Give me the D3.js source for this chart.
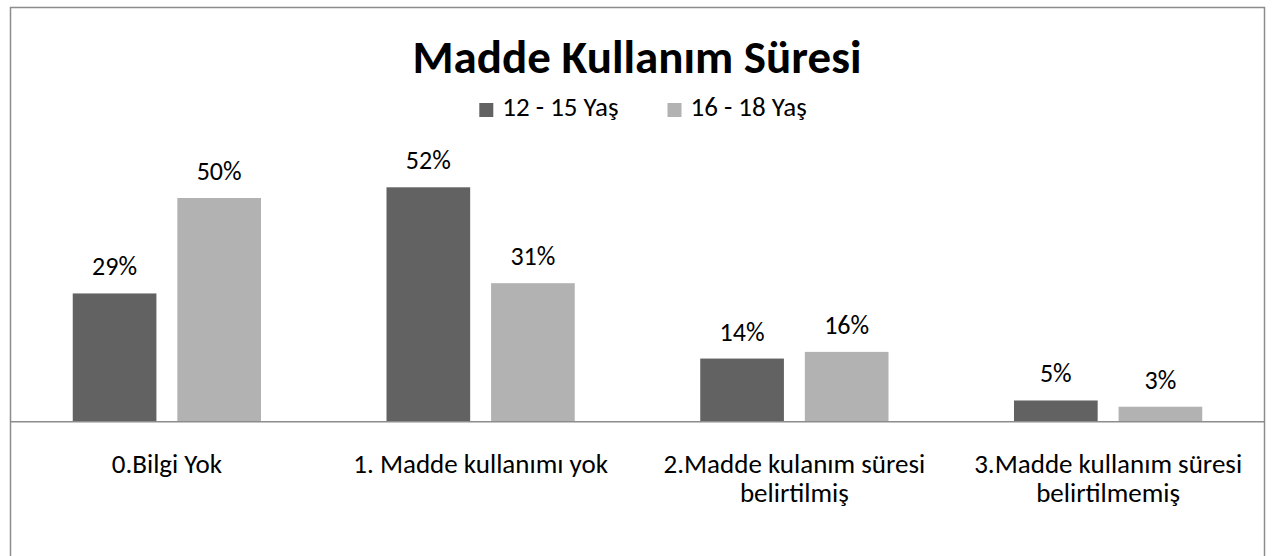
<!DOCTYPE html>
<html>
<head>
<meta charset="utf-8">
<script src="https://cdn.jsdelivr.net/npm/d3@7"></script>
<style>
  html, body { margin: 0; padding: 0; background: #fff; }
  svg { display: block; font-family: Carlito, Lato, "Open Sans", sans-serif; }
</style>
</head>
<body>
<div id="chart"></div>
<script>
// Madde Kullanım Süresi - grouped bar chart

const categories = [
    '0.Bilgi Yok',
    '1. Madde kullanımı yok',
    '2.Madde kulanım süresi belirtilmiş',
    '3.Madde kullanım süresi belirtilmemiş'
];
const seriesNames = ['12 - 15 Yaş', '16 - 18 Yaş'];
const values1215 = [28.6, 52.4, 14.0, 4.6];
const values1618 = [50.0, 30.9, 15.5, 3.2];
const seriesColors = ['#626262', '#b2b2b2'];

const W = 1283, H = 556;
const frame = { left: 10, right: 1264, top: 7 };
const baseline = 421;
const fontFamily = 'Carlito, Lato, "Open Sans", sans-serif';

const svg = d3.select('#chart').append('svg')
    .attr('width', W)
    .attr('height', H);

// outer frame (bottom edge is cut off in the original)
svg.append('rect')
    .attr('x', frame.left + 0.5)
    .attr('y', frame.top + 0.5)
    .attr('width', frame.right - frame.left)
    .attr('height', H + 20)
    .attr('fill', '#fff')
    .attr('stroke', '#8c8c8c')
    .attr('stroke-width', 1.5);

// title
svg.append('text')
    .attr('x', (frame.left + frame.right) / 2)
    .attr('y', 73)
    .attr('text-anchor', 'middle')
    .attr('font-size', 47)
    .attr('font-weight', 'bold')
    .attr('fill', '#000')
    .text('Madde Kullanım Süresi');

// legend
const legend = svg.append('g');
let lx = 0;
seriesNames.forEach((name, i) => {
    const g = legend.append('g').attr('transform', `translate(${lx},0)`);
    g.append('rect')
        .attr('x', 0).attr('y', 103)
        .attr('width', 14).attr('height', 14)
        .attr('fill', seriesColors[i]);
    const t = g.append('text')
        .attr('x', 23).attr('y', 116)
        .attr('font-size', 27)
        .attr('fill', '#000')
        .text(name);
    lx += 23 + t.node().getComputedTextLength() + 49;
});
const legendW = lx - 49;
legend.attr('transform', `translate(${643 - legendW / 2},0)`);

// scales
const x0 = d3.scaleBand()
    .domain(categories)
    .range([frame.left, frame.right + 1])
    .paddingInner(0)
    .paddingOuter(0);

const x1 = d3.scaleBand()
    .domain(seriesNames)
    .range([0, x0.bandwidth()])
    .paddingInner(0.2)
    .paddingOuter(0.6);

const y = d3.scaleLinear()
    .domain([0, 60])
    .range([baseline, baseline - 60 * 4.46]);

const rows = categories.map((c, i) => ({
    category: c,
    values: [
        { series: seriesNames[0], value: values1215[i], color: seriesColors[0] },
        { series: seriesNames[1], value: values1618[i], color: seriesColors[1] }
    ]
}));

const groups = svg.selectAll('.group')
    .data(rows)
    .enter()
    .append('g')
    .attr('class', 'group')
    .attr('transform', d => `translate(${x0(d.category)},0)`);

groups.selectAll('rect')
    .data(d => d.values)
    .enter()
    .append('rect')
    .attr('x', d => x1(d.series))
    .attr('y', d => y(d.value))
    .attr('width', x1.bandwidth())
    .attr('height', d => y(0) - y(d.value))
    .attr('fill', d => d.color);

groups.selectAll('.lbl')
    .data(d => d.values)
    .enter()
    .append('text')
    .attr('class', 'lbl')
    .attr('x', d => x1(d.series) + x1.bandwidth() / 2)
    .attr('y', d => y(d.value) - 18)
    .attr('text-anchor', 'middle')
    .attr('font-size', 26)
    .attr('fill', '#000')
    .text(d => Math.round(d.value) + '%');

// category axis, line spans the whole frame
const xAxis = svg.append('g')
    .attr('transform', `translate(0,${baseline})`)
    .call(d3.axisBottom(x0).tickSize(0).tickPadding(0));
xAxis.select('.domain').remove();
xAxis.attr('font-family', fontFamily).attr('font-size', 27);
svg.append('line')
    .attr('x1', frame.left).attr('x2', frame.right + 1)
    .attr('y1', baseline + 0.75).attr('y2', baseline + 0.75)
    .attr('stroke', '#8c8c8c')
    .attr('stroke-width', 1.5);

xAxis.selectAll('.tick text')
    .attr('fill', '#000')
    .attr('y', 52)
    .attr('dy', 0)
    .each(function (d) { wrap(d3.select(this), x0.bandwidth() - 14); });

function wrap(text, width) {
    const words = text.text().split(/\s+/);
    text.text(null);
    let line = [];
    let lineNo = 0;
    let tspan = text.append('tspan').attr('x', 0).attr('y', 52);
    words.forEach(w => {
        line.push(w);
        tspan.text(line.join(' '));
        if (tspan.node().getComputedTextLength() > width && line.length > 1) {
            line.pop();
            tspan.text(line.join(' '));
            line = [w];
            lineNo++;
            tspan = text.append('tspan').attr('x', 0).attr('y', 52 + lineNo * 29).text(w);
        }
    });
}
</script>
</body>
</html>
